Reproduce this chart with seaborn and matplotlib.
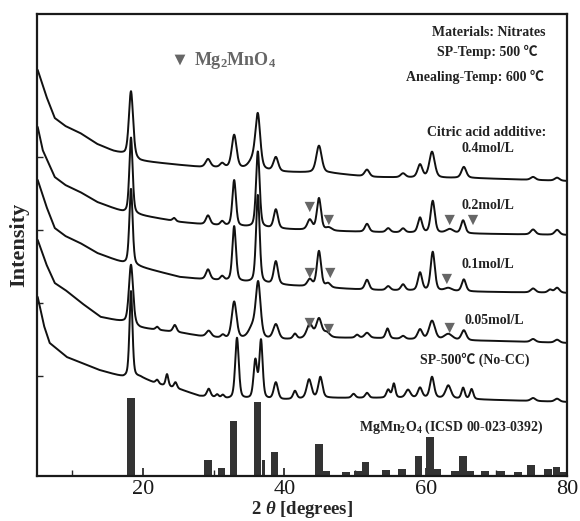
import numpy as np
import pandas as pd
import matplotlib
matplotlib.use("Agg")
import matplotlib.pyplot as plt
import seaborn as sns

sns.set_theme(style="white")
plt.rcParams['font.family'] = ['Liberation Serif', 'Noto Sans CJK JP', 'DejaVu Serif']
plt.rcParams['mathtext.fontset'] = 'custom'
plt.rcParams['mathtext.rm'] = 'Liberation Serif:bold'
plt.rcParams['mathtext.bf'] = 'Liberation Serif:bold'
plt.rcParams['mathtext.it'] = 'Liberation Serif:italic:bold'
plt.rcParams['mathtext.default'] = 'bf'

# ---------------- data (2theta in degrees, intensity in arbitrary units) ----------------
labels = ["0.4mol/L", "0.2mol/L", "0.1mol/L", "0.05mol/L", "SP-500℃ (No-CC)"]

# background (baseline) points of each pattern: (2theta, intensity)
bg_04 = [(5.1, 406), (6.3, 380), (7.5, 358), (9.0, 350), (11.1, 343), (13.5, 332), (15.8, 325),
         (17.2, 322), (19.6, 315), (25.2, 311), (28.1, 309), (32.3, 308), (39.4, 304), (46.5, 303),
         (52.1, 299), (60.6, 298), (66.3, 298), (80.0, 295)]
bg_02 = [(5.1, 349), (5.8, 326), (7.5, 299), (9.0, 291), (11.1, 284), (13.5, 274), (17.2, 264),
         (19.4, 261), (25.2, 254), (28.0, 252), (32.0, 250), (39.4, 247), (46.5, 245), (52.0, 244),
         (60.0, 243), (70.0, 242), (80.0, 241)]
bg_01 = [(5.1, 296), (6.3, 270), (7.5, 248), (9.0, 240), (11.1, 233), (13.5, 223), (17.2, 213),
         (19.6, 209), (25.2, 199), (28.0, 197), (32.0, 195), (39.4, 191), (46.5, 188), (52.0, 186),
         (60.0, 185), (70.0, 184), (80.0, 183)]
bg_005 = [(5.1, 236), (6.3, 212), (7.5, 193), (9.0, 186), (11.3, 173), (14.0, 159), (17.2, 154),
          (19.6, 148), (22.0, 146), (25.5, 143), (28.0, 140), (32.0, 137), (39.4, 136),
          (46.0, 138), (52.0, 138), (60.0, 136), (70.0, 135), (80.0, 133)]
bg_nocc = [(5.1, 179), (6.0, 150), (6.8, 133), (9.2, 119), (13.8, 106), (17.2, 99), (19.6, 99),
           (22.0, 92), (25.5, 86), (28.0, 80), (32.0, 77), (39.4, 76), (46.0, 78), (52.0, 78),
           (60.0, 78), (70.0, 76), (80.0, 74)]

# diffraction peaks of each pattern: (2theta, height, FWHM)
pk_04 = [(18.3, 66, 0.7), (29.2, 8, 0.8), (31.2, 4, 0.7), (32.9, 33, 0.8), (35.6, 9, 1.4),
         (36.25, 52, 0.8), (38.8, 14, 0.8), (44.9, 27, 0.9), (51.7, 7, 0.8), (56.8, 4, 0.8),
         (59.2, 13, 0.8), (60.9, 26, 0.9), (65.4, 11, 0.8), (75.2, 3, 0.8), (78.6, 3, 0.8)]
pk_02 = [(18.3, 76, 0.55), (24.4, 3, 0.5), (29.2, 9, 0.7), (31.2, 4, 0.6), (32.9, 46, 0.6),
         (36.25, 76, 0.6), (38.8, 19, 0.7), (43.6, 10, 0.8), (44.9, 32, 0.7), (46.3, 3, 1.0),
         (51.7, 8, 0.7), (54.7, 4, 0.7), (56.8, 4, 0.7), (59.2, 15, 0.7), (61.0, 32, 0.7),
         (63.4, 4, 1.2), (65.3, 13, 0.7), (75.2, 5, 0.8), (78.6, 5, 0.8)]
pk_01 = [(18.3, 76, 0.55), (29.2, 10, 0.7), (31.2, 4, 0.6), (32.9, 55, 0.6), (36.25, 88, 0.6),
         (38.8, 23, 0.7), (43.6, 7, 0.8), (44.9, 36, 0.7), (46.2, 4, 0.8), (51.7, 10, 0.7),
         (54.7, 4, 0.7), (56.8, 6, 0.7), (59.2, 18, 0.7), (61.0, 39, 0.7), (63.2, 3, 1.2),
         (65.4, 12, 0.7), (75.2, 4, 0.8), (77.6, 3, 0.7), (78.6, 5, 0.8)]
pk_005 = [(18.3, 60, 0.7), (22.0, 3, 0.5), (24.5, 7, 0.6), (29.3, 6, 0.8), (31.3, 3, 0.6),
          (32.9, 37, 0.8), (35.5, 11, 1.3), (36.3, 54, 0.8), (38.8, 15, 0.9), (41.5, 5, 0.6),
          (43.6, 14, 1.0), (44.9, 19, 0.9), (46.0, 5, 1.0), (50.3, 3, 0.6), (51.7, 5, 0.8),
          (54.6, 10, 0.6), (56.8, 3, 0.7), (59.2, 10, 0.8), (60.9, 19, 1.0), (63.2, 6, 1.4),
          (65.4, 10, 0.8), (75.2, 3, 0.8), (78.6, 3, 0.8)]
pk_nocc = [(18.3, 86, 0.5), (22.0, 4, 0.5), (23.4, 12, 0.45), (24.6, 6, 0.5), (29.3, 8, 0.6),
           (30.5, 3, 0.5), (31.3, 3, 0.5), (33.3, 61, 0.6), (35.9, 38, 0.6), (36.7, 58, 0.55),
           (38.8, 17, 0.7), (41.5, 8, 0.6), (43.5, 19, 0.8), (45.1, 21, 0.7), (49.8, 4, 0.6),
           (51.7, 5, 0.6), (54.7, 8, 0.6), (55.5, 14, 0.5), (57.5, 8, 0.8), (59.2, 10, 0.7),
           (60.9, 21, 0.7), (63.2, 13, 0.9), (65.3, 11, 0.55), (66.5, 10, 0.55), (75.2, 3, 0.8),
           (78.6, 3, 0.8)]

# Mg2MnO4 impurity markers: (2theta, intensity)
mk_02 = [(43.6, 269), (46.3, 256), (63.4, 256), (66.7, 256)]
mk_01 = [(43.6, 203), (46.5, 203), (63.0, 197)]
mk_005 = [(43.6, 153), (46.3, 147), (63.4, 148)]

# reference pattern MgMn2O4 (ICSD 00-023-0392)
ref_pos = [18.3, 29.2, 31.1, 32.8, 36.2, 37.1, 38.6, 44.9, 45.9, 48.7, 50.4, 51.5, 54.4, 56.6,
           59.0, 60.6, 61.6, 64.1, 65.3, 66.3, 68.4, 70.7, 73.1, 74.9, 77.3, 78.5, 79.5]
ref_int = [78, 16, 8, 55, 74, 16, 24, 32, 5, 4, 5, 14, 6, 7, 20, 39, 7, 5, 20, 5, 5, 5, 4, 11, 7, 9, 4]

xticks = [20, 40, 60, 80]

# ---------------- build curves ----------------
x = np.linspace(5.1, 80, 3000)


def pattern(bg, peaks):
    bx, by = zip(*bg)
    y = np.interp(x, bx, by)
    for c, h, w in peaks:
        g = np.exp(-4 * np.log(2) * ((x - c) / w) ** 2)
        l = 1.0 / (1.0 + ((x - c) / (w / 2)) ** 2)
        y = y + h * (0.6 * g + 0.4 * l)
    return y


sets = [(bg_04, pk_04), (bg_02, pk_02), (bg_01, pk_01), (bg_005, pk_005), (bg_nocc, pk_nocc)]
frames = []
for lab, (bg, pk) in zip(labels, sets):
    frames.append(pd.DataFrame({"two_theta": x, "intensity": pattern(bg, pk), "sample": lab}))
df = pd.concat(frames, ignore_index=True)

# ---------------- figure ----------------
fig = plt.figure(figsize=(5.8, 5.21), dpi=100)
ax = fig.add_axes([37 / 580, 45 / 521, 530 / 580, 462 / 521])

sns.lineplot(data=df, x="two_theta", y="intensity", units="sample", estimator=None,
             sort=False, color="#111111", lw=1.4, ax=ax, legend=False)

ax.bar(ref_pos, ref_int, width=[1.1] * 5 + [0.45] + [1.1] * 21, color="#333333",
       edgecolor="none", align="center")

mk_all = mk_02 + mk_01 + mk_005
mx, my = zip(*mk_all)
ax.scatter(mx, my, marker="v", s=55, color="#666666", edgecolor="none", zorder=5)

ax.set_xlim(5, 80)
ax.set_ylim(0, 462)
ax.set_xticks(xticks)
ax.set_xticks([10, 30, 50, 70], minor=True)
ax.set_xticklabels([str(t) for t in xticks], fontsize=16, fontfamily="Liberation Serif")
ax.set_yticks([])
ax.set_yticks([100, 173, 246, 319], minor=True)
ax.tick_params(axis="x", which="major", direction="in", length=6, width=1.2, bottom=True, pad=3,
               colors="#1a1a1a")
ax.tick_params(axis="x", which="minor", direction="in", length=4, width=1.0, bottom=True)
ax.tick_params(axis="y", which="minor", direction="in", length=4, width=1.0, left=True)
for s in ax.spines.values():
    s.set_linewidth(1.6)
    s.set_color("#1a1a1a")

ax.set_xlabel(r"2 $\mathit{\theta}$ [degrees]", fontsize=13.5, fontweight="bold", labelpad=0)
ax.set_ylabel("Intensity", fontsize=16, fontweight="bold", labelpad=2)


def px(p):
    return 5 + (p - 37) / 7.067


def py(p):
    return 476 - p


tkw = dict(fontsize=10, fontweight="bold", color="#222222", va="center", ha="center")
ax.text(px(489), py(32), "Materials: Nitrates", **tkw)
ax.text(px(487), py(52), "SP-Temp: 500 ℃", **tkw)
ax.text(px(475), py(77), "Anealing-Temp: 600 ℃", **tkw)
ax.text(px(487), py(132), "Citric acid additive:", **tkw)
ax.text(px(488), py(148), labels[0], **tkw)
ax.text(px(488), py(205), labels[1], **tkw)
ax.text(px(488), py(265), labels[2], **tkw)
ax.text(px(494), py(320), labels[3], **tkw)
ax.text(px(475), py(360), labels[4], **tkw)
ax.text(px(451), py(427), r"MgMn$_2$O$_4$ (ICSD 00-023-0392)", **tkw)

ax.scatter([px(180)], [py(60)], marker="v", s=60, color="#666666", edgecolor="none")
ax.text(px(194), py(60), r"Mg$_2$MnO$_4$", fontsize=13, fontweight="bold", color="#666666",
        va="center", ha="left")

fig.savefig("out.png", dpi=100)
